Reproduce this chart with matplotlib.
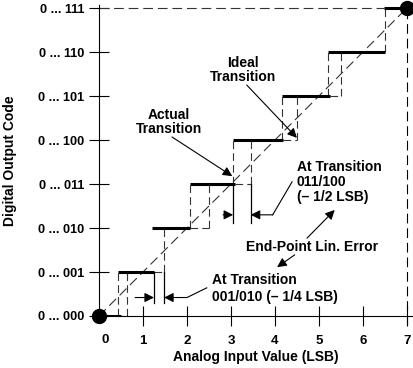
import matplotlib
matplotlib.use("Agg")
import matplotlib.pyplot as plt

plt.rcParams['font.family'] = ['Liberation Sans', 'DejaVu Sans']
plt.rcParams['font.weight'] = 'bold'
plt.rcParams['axes.labelweight'] = 'bold'
plt.rcParams['font.size'] = 10
plt.rcParams['lines.scale_dashes'] = False

# codes on the y axis
codes = ['0 ... 000', '0 ... 001', '0 ... 010', '0 ... 011',
         '0 ... 100', '0 ... 101', '0 ... 110', '0 ... 111']
x_ticks = [1, 2, 3, 4, 5, 6, 7]

# actual transfer function: left / right end of each code (LSB)
actual_start = [0.0, 0.43, 1.2, 2.07, 3.05, 4.16, 5.2, 6.48]
actual_end = [0.5, 1.25, 2.07, 3.09, 4.18, 5.25, 6.5, 7.0]
# ideal transition into code k (LSB)
ideal_trans = [None, 0.64, 1.48, 2.5, 3.45, 4.5, 5.5, 6.5]
# actual transition drawn dashed for these codes
show_actual = [1, 3, 4, 5, 6]

fig = plt.figure(figsize=(4.13, 3.68), dpi=100)
ax = fig.add_axes([99 / 413, 52 / 368, 314 / 413, 311 / 368])
ax.set_xlim(0, 7.14)
ax.set_ylim(0, 7.07)

dash_long = (0, (7, 3.5))
dash_short = (0, (5.5, 3))
dcol = '#333333'

# end-point line
ax.plot([0, 7], [0, 7], color=dcol, lw=0.8, linestyle=dash_long)
ax.plot([0, actual_start[7]], [7, 7], color=dcol, lw=0.8, linestyle=dash_long)
ax.plot([7, 7], [-0.2, 7], color='k', lw=0.8, linestyle=dash_long, clip_on=False)

for k in range(1, 8):
    xi = ideal_trans[k]
    ax.plot([xi, xi], [k - 1, k], color=dcol, lw=0.8, linestyle=dash_short)
    if k in show_actual:
        xa = actual_start[k]
        ax.plot([xa, xa], [k - 1, k], color=dcol, lw=0.8, linestyle=dash_short)
    if k < 7:
        ax.plot([actual_end[k - 1], xi], [k - 1, k - 1], color=dcol, lw=0.8,
                linestyle=dash_short)

for k in range(8):
    ax.plot([actual_start[k], actual_end[k]], [k, k], color='k', lw=2.2,
            solid_capstyle='butt')

ax.plot([0, 7], [0, 7], 'o', color='k', markersize=10, clip_on=False, zorder=5)

# brackets
arrow = dict(arrowstyle='-|>', color='k', lw=0.8, mutation_scale=14,
             shrinkA=0, shrinkB=0)
for xl, xr, ytop, ybot, ya, xt, xe in [
        (actual_end[1], ideal_trans[2], 1, 0.3, 0.42, 0.82, 2.0),
        (actual_start[4], ideal_trans[4], 3, 2.11, 2.3, 2.82, 3.95)]:
    ax.plot([xl, xl], [ytop, ybot], color='k', lw=0.9)
    ax.plot([xr, xr], [ytop, ybot], color='k', lw=0.9)
    ax.annotate('', xy=(xl, ya), xytext=(xt, ya), arrowprops=arrow)
    ax.annotate('', xy=(xr, ya), xytext=(xe, ya), arrowprops=arrow)
ax.plot([2.0, 2.45], [0.42, 0.64], color='k', lw=0.8)
ax.plot([3.95, 4.39], [2.3, 3.05], color='k', lw=0.8)

# labels
ax.text(1.59, 4.41, 'Actual\nTransition', ha='center', va='center', linespacing=0.98)
ax.annotate('', xy=(3.03, 3.18), xytext=(1.66, 4.07), arrowprops=arrow)
ax.text(3.27, 5.59, 'Ideal\nTransition', ha='center', va='center', linespacing=0.98)
ax.annotate('', xy=(4.5, 4.05), xytext=(3.36, 5.25), arrowprops=arrow)
ax.text(4.5, 3.05, 'At Transition\n011/100\n(\u2013 1/2 LSB)', ha='left', va='center',
        linespacing=1.1)
ax.text(2.57, 0.62, 'At Transition\n001/010 (\u2013 1/4 LSB)', ha='left', va='center',
        linespacing=1.25)
ax.text(4.84, 1.57, 'End-Point Lin. Error', ha='center', va='center')
ax.annotate('', xy=(5.36, 2.41), xytext=(4.73, 1.77), arrowprops=arrow)
ax.annotate('', xy=(4.05, 1.11), xytext=(4.45, 1.39), arrowprops=arrow)

# axes
ax.spines['top'].set_visible(False)
ax.spines['right'].set_visible(False)
ax.set_yticks(range(8))
ax.set_yticklabels(codes, fontsize=9.2)
ax.set_xticks(x_ticks)
ax.set_xticklabels([str(v) for v in x_ticks], fontsize=9.5)
ax.tick_params(axis='y', direction='inout', length=14, width=0.8, pad=3.5)
ax.tick_params(axis='x', direction='inout', length=14, width=0.8, pad=7)
ax.text(0.14, -0.55, '0', ha='center', va='center', fontsize=9.5)
ax.set_xlabel('Analog Input Value (LSB)', labelpad=2)
ax.set_ylabel('Digital Output Code', labelpad=15)

fig.savefig('out.png', dpi=100)
